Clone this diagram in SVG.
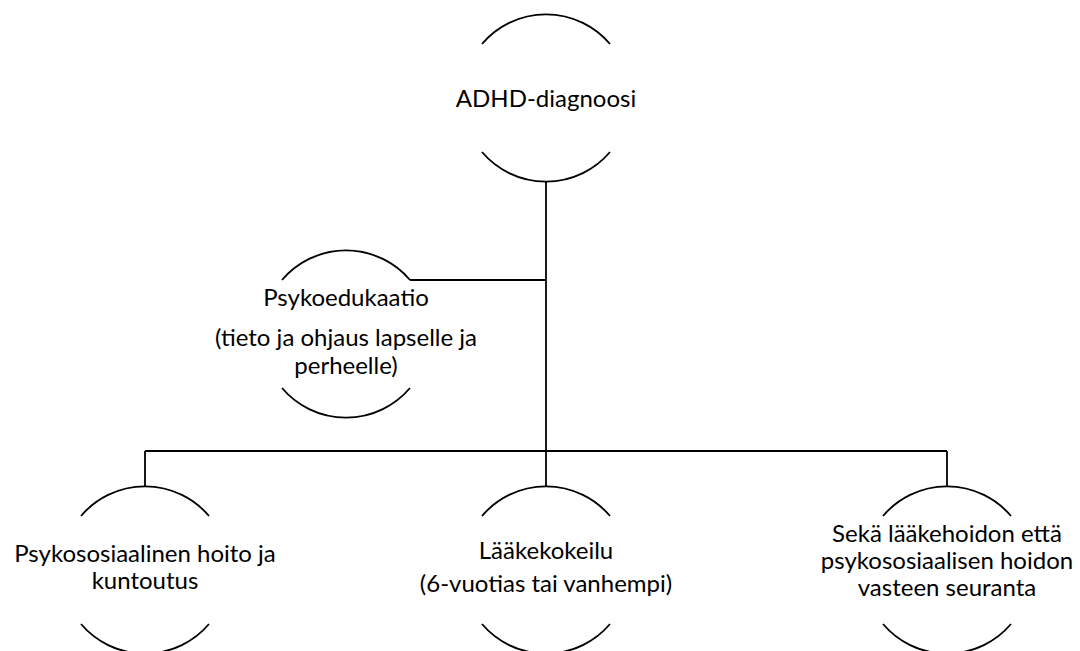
<svg xmlns="http://www.w3.org/2000/svg" width="1080" height="651" viewBox="0 0 1080 651">
<style>
.arc{fill:none;stroke:#000;stroke-width:1.8}
.con{fill:none;stroke:#000;stroke-width:1.8}
text{font-family:Lato,"Liberation Sans",sans-serif;font-size:24px;fill:#000;text-anchor:middle}
</style>
<rect width="1080" height="651" fill="#fff"/>
<g id="connectors">
<path class="con" d="M546,182 V486"/>
<path class="con" d="M410,280 H546"/>
<path class="con" d="M145,451 H947"/>
<path class="con" d="M145,451 V486"/>
<path class="con" d="M947,451 V486"/>
</g>
<g id="adhd">
<path class="arc" d="M482,44 A84,84 0 0 1 610,44"/>
<path class="arc" d="M482,152 A84,84 0 0 0 610,152"/>
<text x="546" y="107">ADHD-diagnoosi</text>
</g>
<g id="psykoedukaatio">
<path class="arc" d="M282,280 A84,84 0 0 1 410,280"/>
<path class="arc" d="M282,388 A84,84 0 0 0 410,388"/>
<text x="346" y="306">Psykoedukaatio</text>
<text x="346" y="346">(tieto ja ohjaus lapselle ja</text>
<text x="346" y="374">perheelle)</text>
</g>
<g id="psykososiaalinen">
<path class="arc" d="M81,516 A84,84 0 0 1 209,516"/>
<path class="arc" d="M81,624 A84,84 0 0 0 209,624"/>
<text x="145" y="562">Psykososiaalinen hoito ja</text>
<text x="145" y="589">kuntoutus</text>
</g>
<g id="laakekokeilu">
<path class="arc" d="M482,516 A84,84 0 0 1 610,516"/>
<path class="arc" d="M482,624 A84,84 0 0 0 610,624"/>
<text x="546" y="559">Lääkekokeilu</text>
<text x="546" y="592">(6-vuotias tai vanhempi)</text>
</g>
<g id="seuranta">
<path class="arc" d="M883,516 A84,84 0 0 1 1011,516"/>
<path class="arc" d="M883,624 A84,84 0 0 0 1011,624"/>
<text x="947" y="542">Sekä lääkehoidon että</text>
<text x="947" y="569">psykososiaalisen hoidon</text>
<text x="947" y="596">vasteen seuranta</text>
</g>
</svg>
